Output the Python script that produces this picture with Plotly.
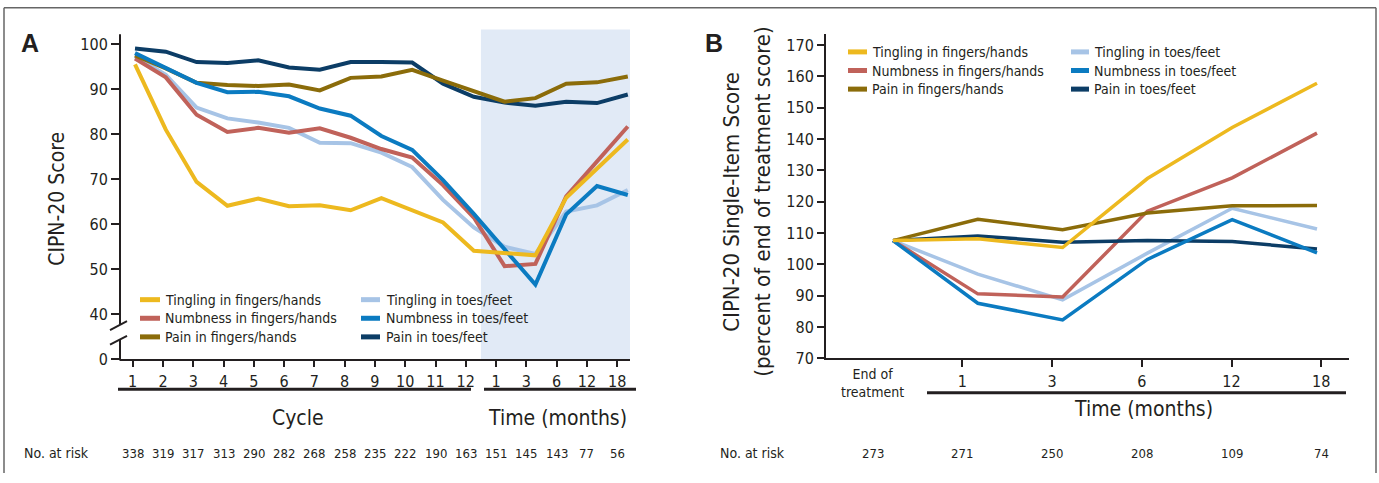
import plotly.graph_objects as go

W, H = 1379, 483

# ---------------- data ----------------
series_names = ["Tingling in fingers/hands", "Numbness in fingers/hands", "Pain in fingers/hands",
                "Tingling in toes/feet", "Numbness in toes/feet", "Pain in toes/feet"]
series_colors = ["#EDB91F", "#C0625A", "#8B6C0A", "#A7C4E6", "#0B7BC1", "#0C3D66"]

# Panel A: cycles 1-12 then months 1, 3, 6, 12, 18
a_tick_labels = ["1", "2", "3", "4", "5", "6", "7", "8", "9", "10", "11", "12", "1", "3", "6", "12", "18"]
a_at_risk = [338, 319, 317, 313, 290, 282, 268, 258, 235, 222, 190, 163, 151, 145, 143, 77, 56]
a_tingling_fingers = [95.5, 81.0, 69.4, 64.1, 65.7, 64.0, 64.2, 63.1, 65.8, 63.1, 60.4, 54.1, 53.6, 53.1, 65.9, 72.3, 78.8]
a_numbness_fingers = [96.8, 92.6, 84.3, 80.5, 81.4, 80.3, 81.3, 79.2, 76.7, 74.8, 68.7, 61.5, 50.7, 51.2, 66.2, 74.0, 81.7]
a_pain_fingers = [97.5, 94.6, 91.4, 90.9, 90.7, 91.0, 89.7, 92.5, 92.8, 94.3, 91.9, 89.5, 87.2, 88.0, 91.2, 91.5, 92.8]
a_tingling_toes = [97.3, 93.2, 85.9, 83.5, 82.6, 81.4, 78.1, 78.0, 75.9, 72.7, 65.4, 59.3, 55.0, 53.4, 62.8, 64.2, 67.6]
a_numbness_toes = [98.0, 94.7, 91.4, 89.3, 89.4, 88.4, 85.7, 84.1, 79.6, 76.5, 69.8, 62.3, 54.5, 46.6, 62.2, 68.5, 66.5]
a_pain_toes = [99.0, 98.3, 96.0, 95.8, 96.4, 94.8, 94.3, 96.0, 96.0, 95.9, 91.2, 88.3, 87.0, 86.3, 87.2, 86.9, 88.8]
a_y_tick_values = [30, 40, 50, 60, 70, 80, 90, 100]
a_y_tick_labels = ["0", "40", "50", "60", "70", "80", "90", "100"]

# Panel B: end of treatment, months 1, 3, 6, 12, 18
b_tick_labels = ["End of<br>treatment", "1", "3", "6", "12", "18"]
b_at_risk = [273, 271, 250, 208, 109, 74]
b_tingling_fingers = [107.6, 108.2, 105.4, 127.4, 143.7, 157.8]
b_numbness_fingers = [107.6, 90.6, 89.6, 117.0, 127.6, 141.9]
b_pain_fingers = [107.6, 114.4, 111.1, 116.4, 118.7, 118.8]
b_tingling_toes = [107.6, 96.9, 88.7, 103.6, 117.9, 111.3]
b_numbness_toes = [107.6, 87.6, 82.3, 101.6, 114.3, 103.7]
b_pain_toes = [107.6, 109.1, 107.1, 107.6, 107.3, 104.9]

a_series = [a_tingling_fingers, a_numbness_fingers, a_pain_fingers, a_tingling_toes, a_numbness_toes, a_pain_toes]
b_series = [b_tingling_fingers, b_numbness_fingers, b_pain_fingers, b_tingling_toes, b_numbness_toes, b_pain_toes]

# ---------------- helpers ----------------
FONT = "DejaVu Sans Condensed, Liberation Sans Narrow, Arial Narrow, sans-serif"
INK = "#231F20"


def px(x):
    return x / W


def py(y):
    return 1 - y / H


# drawing order (bottom to top)
draw_order = [3, 1, 5, 2, 4, 0]

fig = go.Figure()
for i in draw_order:
    fig.add_trace(go.Scatter(x=list(range(len(a_series[i]))), y=a_series[i], mode="lines",
                             name=series_names[i], line=dict(color=series_colors[i], width=4),
                             xaxis="x", yaxis="y", showlegend=False, hoverinfo="skip"))
for i in draw_order:
    fig.add_trace(go.Scatter(x=list(range(len(b_series[i]))), y=b_series[i], mode="lines",
                             name=series_names[i], line=dict(color=series_colors[i], width=3.5),
                             xaxis="x2", yaxis="y2", showlegend=False, hoverinfo="skip"))

# tick positions (label grid is slightly tighter than the data grid in the original)
a_tickvals = [k * (30.28 / 30.8) + (132.7 - 135) / 30.8 for k in range(len(a_tick_labels))]
b_tickvals = [(872.7 + 89.7 * k - 893) / 84.8 for k in range(len(b_tick_labels))]

axis_common = dict(showgrid=False, zeroline=False, ticks="outside", tickcolor=INK, tickwidth=2,
                   tickfont=dict(family=FONT, size=16, color=INK), fixedrange=True)

fig.update_layout(
    width=W, height=H, autosize=False,
    margin=dict(l=0, r=0, t=0, b=0),
    paper_bgcolor="white", plot_bgcolor="rgba(0,0,0,0)",
    font=dict(family=FONT, color=INK),
    xaxis=dict(domain=[px(120), px(630)], range=[(120 - 135) / 30.8, (630 - 135) / 30.8],
               tickmode="array", tickvals=a_tickvals, ticktext=a_tick_labels, ticklen=6,
               showline=True, linecolor=INK, linewidth=2, anchor="y", **axis_common),
    yaxis=dict(domain=[py(367), py(30)], range=[30, 30 + 337 / 4.6],
               tickmode="array", tickvals=a_y_tick_values, ticktext=a_y_tick_labels, ticklen=8,
               showline=False, anchor="x", **axis_common),
    xaxis2=dict(domain=[px(826), px(1349)], range=[(826 - 893) / 84.8, (1349 - 893) / 84.8],
                tickmode="array", tickvals=b_tickvals[1:], ticktext=b_tick_labels[1:], ticklen=7,
                showline=True, linecolor=INK, linewidth=2, anchor="y2", **axis_common),
    yaxis2=dict(domain=[py(366), py(35)], range=[70, 170 + 11 / 3.2], dtick=10, tick0=70, ticklen=7,
                showline=True, linecolor=INK, linewidth=2, anchor="x2", **axis_common),
)

shapes = []
ann = []

# shaded follow-up region in panel A
shapes.append(dict(type="rect", xref="x", yref="y domain",
                   x0=(a_tickvals[11] + a_tickvals[12]) / 2, x1=(630 - 135) / 30.8, y0=0, y1=1,
                   fillcolor="#E1EAF6", line=dict(width=0), layer="below"))

# panel A y axis line with break
shapes.append(dict(type="line", xref="paper", yref="paper", x0=px(120), x1=px(120), y0=py(368), y1=py(347),
                   line=dict(color=INK, width=2)))
shapes.append(dict(type="line", xref="paper", yref="paper", x0=px(120), x1=px(120), y0=py(331), y1=py(35),
                   line=dict(color=INK, width=2)))
for y0, y1 in [(337, 328), (352, 343)]:
    shapes.append(dict(type="line", xref="paper", yref="paper", x0=px(110), x1=px(127), y0=py(y0), y1=py(y1),
                       line=dict(color=INK, width=2)))

# frame
for (x0, y0, x1, y1) in [(4, 8, 4, 483), (4, 8, 1376, 8), (1376, 8, 1376, 483)]:
    shapes.append(dict(type="line", xref="paper", yref="paper", x0=px(x0), x1=px(x1), y0=py(y0), y1=py(y1),
                       line=dict(color="#666666", width=1.5)))

# bracket bars under x tick labels
for (x0, x1, yy) in [(118, 471, 397.5), (484, 636, 397.5), (927, 1346, 401)]:
    shapes.append(dict(type="line", xref="paper", yref="paper", x0=px(x0), x1=px(x1), y0=py(yy), y1=py(yy),
                       line=dict(color=INK, width=3)))


# legends (manual, 2 columns x 3 rows)
def legend(sym_x0, sym_x1, text_x, rows, size):
    for i in range(6):
        col, row = divmod(i, 3)
        yy = rows[row]
        shapes.append(dict(type="line", xref="paper", yref="paper",
                           x0=px(sym_x0[col]), x1=px(sym_x1[col]), y0=py(yy), y1=py(yy),
                           line=dict(color=series_colors[i], width=5)))
        ann.append(dict(text=series_names[i], xref="paper", yref="paper", x=px(text_x[col]), y=py(yy),
                        xanchor="left", yanchor="middle", showarrow=False,
                        font=dict(family=FONT, size=size, color=INK)))


legend([140, 361], [160, 380], [163, 384], [306, 325, 344], 14)
legend([848, 1071], [867, 1089], [870, 1092], [53, 72, 91], 14)

# panel letters
ann.append(dict(text="<b>A</b>", xref="paper", yref="paper", x=px(30), y=py(44), showarrow=False,
                xanchor="center", yanchor="middle", font=dict(family="Liberation Sans, Arial", size=25, color=INK)))
ann.append(dict(text="<b>B</b>", xref="paper", yref="paper", x=px(714), y=py(44), showarrow=False,
                xanchor="center", yanchor="middle", font=dict(family="Liberation Sans, Arial", size=25, color=INK)))

# axis titles
ann.append(dict(text="CIPN-20 Score", xref="paper", yref="paper", x=px(57), y=py(203), textangle=-90,
                showarrow=False, xanchor="center", yanchor="middle", font=dict(family=FONT, size=21, color=INK)))
ann.append(dict(text="CIPN-20 Single-Item Score", xref="paper", yref="paper", x=px(732), y=py(206), textangle=-90,
                showarrow=False, xanchor="center", yanchor="middle", font=dict(family=FONT, size=22, color=INK)))
ann.append(dict(text="(percent of end of treatment score)", xref="paper", yref="paper", x=px(763), y=py(206),
                textangle=-90, showarrow=False, xanchor="center", yanchor="middle",
                font=dict(family=FONT, size=22, color=INK)))
for text, x, y in [("Cycle", 298, 427), ("Time (months)", 557, 427), ("Time (months)", 1143, 418)]:
    ann.append(dict(text=text, xref="paper", yref="paper", x=px(x), y=py(y), showarrow=False,
                    xanchor="center", yanchor="middle", font=dict(family=FONT, size=21, color=INK)))

# End of treatment label
ann.append(dict(text=b_tick_labels[0], xref="x2", yref="paper", x=b_tickvals[0], y=py(391), showarrow=False,
                xanchor="center", yanchor="middle", align="center",
                font=dict(family=FONT, size=14, color=INK)))

# numbers at risk
for x, text in [(22, "No. at risk"), (718, "No. at risk")]:
    ann.append(dict(text=text, xref="paper", yref="paper", x=px(x), y=py(463), showarrow=False,
                    xanchor="left", yanchor="middle", font=dict(family=FONT, size=14, color=INK)))
for k, n in enumerate(a_at_risk):
    ann.append(dict(text=str(n), xref="x", yref="paper", x=a_tickvals[k], y=py(463), showarrow=False,
                    xanchor="center", yanchor="middle", font=dict(family=FONT, size=13, color=INK)))
for k, n in enumerate(b_at_risk):
    ann.append(dict(text=str(n), xref="x2", yref="paper", x=b_tickvals[k], y=py(463), showarrow=False,
                    xanchor="center", yanchor="middle", font=dict(family=FONT, size=13, color=INK)))

fig.update_layout(shapes=shapes, annotations=ann)
fig.write_html("out.html", config={"displayModeBar": False},
               post_script="document.body.style.margin='0';document.body.style.overflow='hidden';")
